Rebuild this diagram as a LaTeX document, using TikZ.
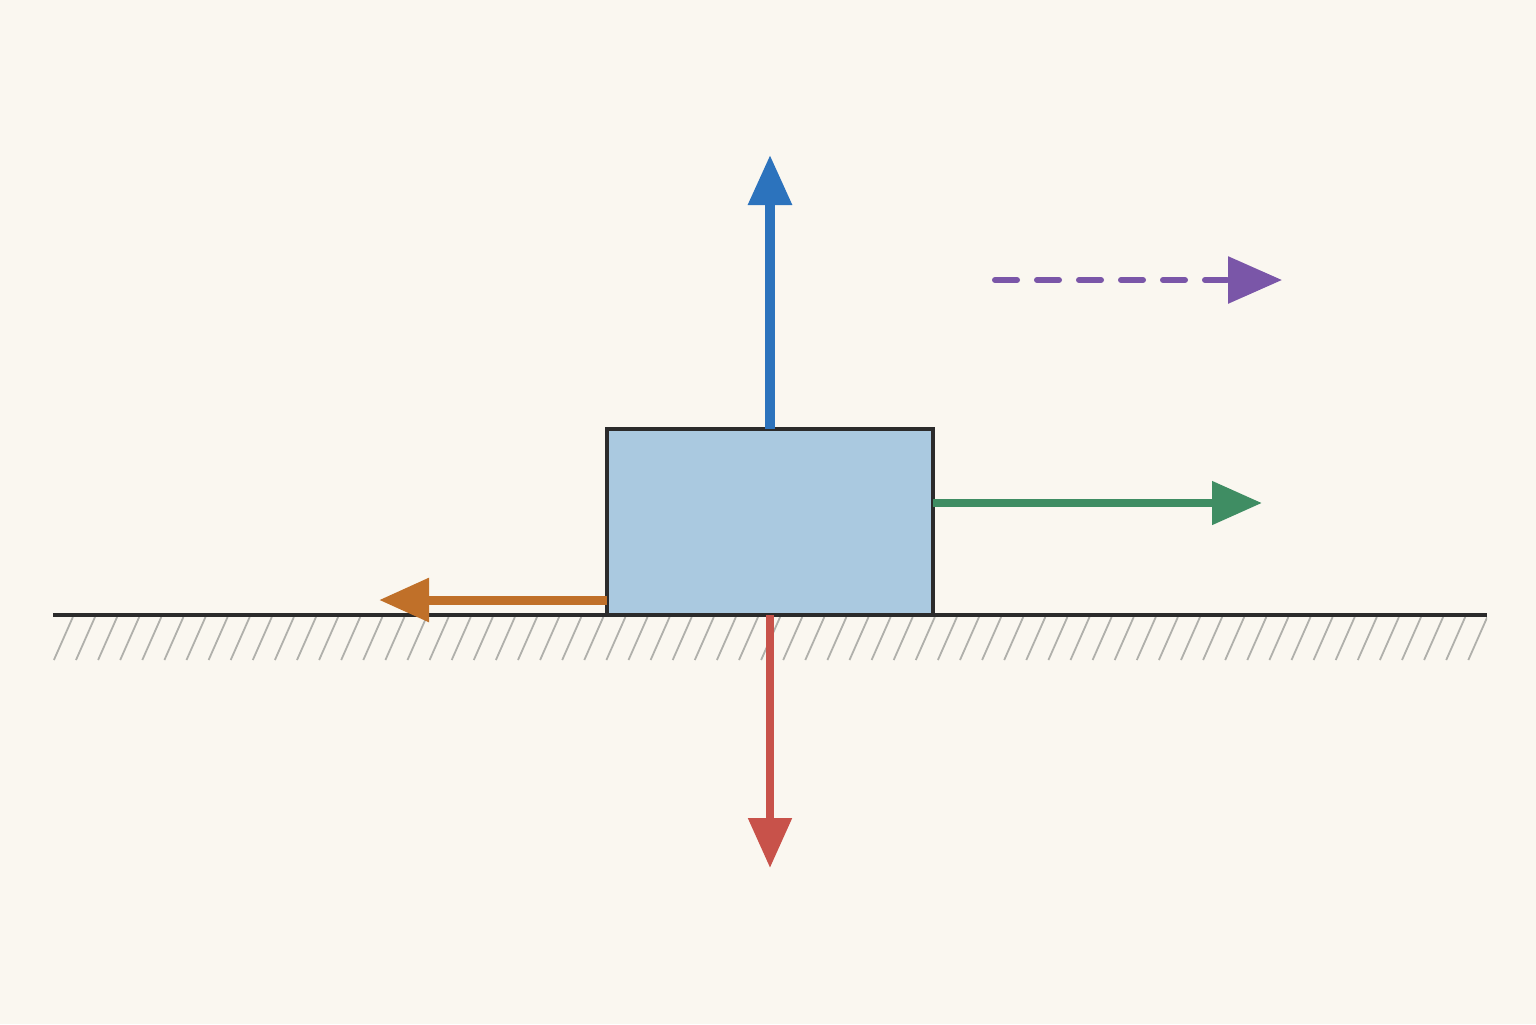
\documentclass[tikz,border=0pt]{standalone}
\usetikzlibrary{arrows.meta}
\definecolor{bgc}{HTML}{FAF7F0}
\definecolor{blockfill}{HTML}{AAC9E0}
\definecolor{ink}{HTML}{2B2B2B}
\definecolor{fblue}{HTML}{2C73BD}
\definecolor{fred}{HTML}{C8524A}
\definecolor{fgreen}{HTML}{3F8D63}
\definecolor{forange}{HTML}{C07029}
\definecolor{fpurple}{HTML}{7A56A8}
\definecolor{hatchc}{HTML}{B0B0AB}
\tikzset{
  blockbox/.style={draw=ink, line width=1.7pt, fill=blockfill, inner sep=0pt, outer sep=0pt, minimum width=163pt, minimum height=93pt},
  force/.style={line width=4.4pt, -{Triangle[length=25pt, width=21pt]}},
  hatchline/.style={draw=hatchc, line width=0.9pt},
  groundline/.style={draw=ink, line width=1.6pt},
  motion/.style={draw=fpurple, line width=3pt, line cap=round, dash pattern=on 11pt off 10pt, -{Triangle[length=27pt, width=23pt]}}
}
\begin{document}
\begin{tikzpicture}[x=0.5pt, y=-0.5pt]
\fill[bgc] (0,0) rectangle (1536,1024);
\useasboundingbox (0,0) rectangle (1536,1024);
% hatching
\begin{scope}
\clip (53,617) rectangle (1487,660);
\foreach \k in {-2,...,66} {
  \draw[hatchline] ({76+22.1*\k},660) -- ({95+22.1*\k},617);
}
\end{scope}
% ground
\coordinate (gL) at (53,615);
\coordinate (gR) at (1487,615);
\draw[groundline] (gL) -- (gR);
% block
\node[blockbox, anchor=south west] (block) at (607,615) {};
% end points
\coordinate (upT) at (block.north |- 0,155);
\coordinate (dnT) at (block.south |- 0,868);
\coordinate (rtT) at (1262,503);
\coordinate (rtS) at (block.east |- 0,503);
\coordinate (lfS) at (block.west |- 0,600);
\coordinate (lfT) at (379,600);
\coordinate (mvS) at (995,280);
\coordinate (mvT) at (1282,280);
% forces
\draw[force, fblue, line width=4.6pt] (block.north) -- (upT);
\draw[force, fred, line width=4.2pt] (block.south) -- (dnT);
\draw[force, fgreen, line width=4pt] (rtS) -- (rtT);
\draw[force, forange, line width=4.5pt] (lfS) -- (lfT);
\draw[motion] (mvS) -- (mvT);
\end{tikzpicture}
\end{document}
